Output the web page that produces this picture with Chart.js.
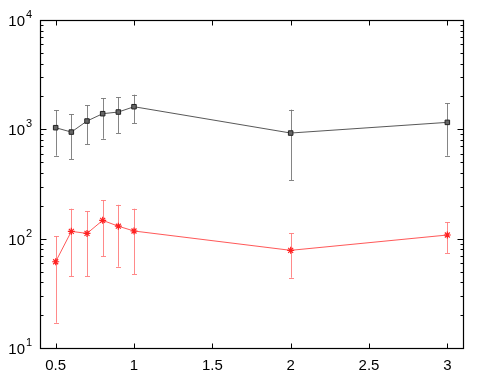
<!DOCTYPE html>
<html>
<head>
<meta charset="utf-8">
<script src="https://cdn.jsdelivr.net/npm/chart.js@4/dist/chart.umd.min.js"></script>
<style>
html,body{margin:0;padding:0;background:#fff;}
#wrap{width:491px;height:382px;position:relative;}
</style>
</head>
<body>
<div id="wrap"><canvas id="c" width="491" height="382"></canvas></div>
<script>
// ---- data ----
const xValues = [0.5, 0.6, 0.7, 0.8, 0.9, 1.0, 2.0, 3.0];
const blackY    = [1035, 944, 1191, 1390, 1440, 1610, 925, 1158];
const blackLow  = [574, 535, 729, 820, 925, 1135, 344, 574];
const blackHigh = [1500, 1371, 1656, 1933, 1963, 2075, 1513, 1730];
const redY    = [61.5, 116.6, 111.7, 147, 130, 117.5, 78.2, 108];
const redLow  = [17, 45.2, 45.5, 68.9, 55.4, 47.4, 43.9, 74];
const redHigh = [105.6, 188, 178, 225, 204, 188, 111.7, 142];
const xTickLabels = [0.5, 1, 1.5, 2, 2.5, 3];
const yDecadeExps = [1, 2, 3, 4];

const pts = (ys) => xValues.map((x, i) => ({x: x, y: ys[i]}));

const errorBars = {
  id: 'errorBars',
  beforeDatasetsDraw(chart) {
    const ctx = chart.ctx, xs = chart.scales.x, ys = chart.scales.y;
    const sets = [
      {lo: blackLow, hi: blackHigh, color: 'rgba(120,120,120,0.9)'},
      {lo: redLow, hi: redHigh, color: 'rgba(255,125,125,0.9)'}
    ];
    ctx.save();
    ctx.lineWidth = 1;
    sets.forEach(s => {
      ctx.strokeStyle = s.color;
      xValues.forEach((x, i) => {
        const px = Math.round(xs.getPixelForValue(x)) + 0.5;
        const p1 = ys.getPixelForValue(s.lo[i]);
        const p2 = ys.getPixelForValue(s.hi[i]);
        ctx.beginPath();
        ctx.moveTo(px, p1); ctx.lineTo(px, p2);
        ctx.moveTo(px - 2.5, Math.round(p1) + 0.5); ctx.lineTo(px + 2.5, Math.round(p1) + 0.5);
        ctx.moveTo(px - 2.5, Math.round(p2) + 0.5); ctx.lineTo(px + 2.5, Math.round(p2) + 0.5);
        ctx.stroke();
      });
    });
    ctx.restore();
  }
};

const frame = {
  id: 'frame',
  afterDraw(chart) {
    const ctx = chart.ctx, a = chart.chartArea, xs = chart.scales.x, ys = chart.scales.y;
    ctx.save();
    ctx.strokeStyle = '#000';
    ctx.lineWidth = 1.2;
    const L = Math.round(a.left) + 0.5, R = Math.round(a.right) + 0.5;
    const T = Math.round(a.top) + 0.5, B = Math.round(a.bottom) + 0.5;
    ctx.strokeRect(L, T, R - L, B - T);
    ctx.lineWidth = 1;
    ctx.beginPath();
    xTickLabels.forEach(v => {
      const px = Math.round(xs.getPixelForValue(v)) + 0.5;
      ctx.moveTo(px, B); ctx.lineTo(px, B - 5);
      ctx.moveTo(px, T); ctx.lineTo(px, T + 5);
    });
    yDecadeExps.forEach(e => {
      const base = Math.pow(10, e);
      const py = Math.round(ys.getPixelForValue(base)) + 0.5;
      ctx.moveTo(L, py); ctx.lineTo(L + 6, py);
      ctx.moveTo(R, py); ctx.lineTo(R - 6, py);
      if (e < 4) {
        for (let m = 2; m <= 9; m++) {
          const q = Math.round(ys.getPixelForValue(m * base)) + 0.5;
          ctx.moveTo(L, q); ctx.lineTo(L + 3, q);
          ctx.moveTo(R, q); ctx.lineTo(R - 3, q);
        }
      }
    });
    ctx.stroke();
    ctx.fillStyle = '#000';
    ctx.font = '15px "Liberation Sans", Arial, sans-serif';
    ctx.textAlign = 'center';
    ctx.textBaseline = 'middle';
    xTickLabels.forEach(v => {
      ctx.fillText(String(v), xs.getPixelForValue(v), 366);
    });
    yDecadeExps.forEach(e => {
      const py = ys.getPixelForValue(Math.pow(10, e));
      ctx.font = '15px "Liberation Sans", Arial, sans-serif';
      ctx.textAlign = 'right';
      ctx.textBaseline = 'middle';
      const supW = 7;
      ctx.fillText('10', a.left - 8 - supW, py + 2);
      ctx.font = '11px "Liberation Sans", Arial, sans-serif';
      ctx.textAlign = 'left';
      ctx.fillText(String(e), a.left - 8 - supW + 1, py - 5);
    });
    ctx.restore();
  }
};

new Chart(document.getElementById('c'), {
  type: 'scatter',
  data: {
    datasets: [
      {
        data: pts(blackY), showLine: true,
        borderColor: 'rgba(70,70,70,0.9)', borderWidth: 1,
        pointStyle: 'rect', pointRadius: 3.2, pointBackgroundColor: '#666',
        pointBorderColor: '#222', pointBorderWidth: 1
      },
      {
        data: pts(redY), showLine: true,
        borderColor: 'rgba(255,70,70,0.9)', borderWidth: 1,
        pointStyle: 'star', pointRadius: 3.5, pointBackgroundColor: '#f33',
        pointBorderColor: '#f22', pointBorderWidth: 1.2
      }
    ]
  },
  options: {
    responsive: false, animation: false, devicePixelRatio: 1,
    layout: {padding: {left: 40, top: 20, right: 28, bottom: 34}},
    plugins: {legend: {display: false}, tooltip: {enabled: false}},
    scales: {
      x: {
        type: 'linear', min: 0.4, max: 3.1,
        grid: {display: false, drawTicks: false}, border: {display: false},
        ticks: {display: false},
        afterFit(s) { s.height = 0; }
      },
      y: {
        type: 'logarithmic', min: 10, max: 10000,
        grid: {display: false, drawTicks: false}, border: {display: false},
        ticks: {display: false},
        afterFit(s) { s.width = 0; }
      }
    }
  },
  plugins: [errorBars, frame]
});
</script>
</body>
</html>
